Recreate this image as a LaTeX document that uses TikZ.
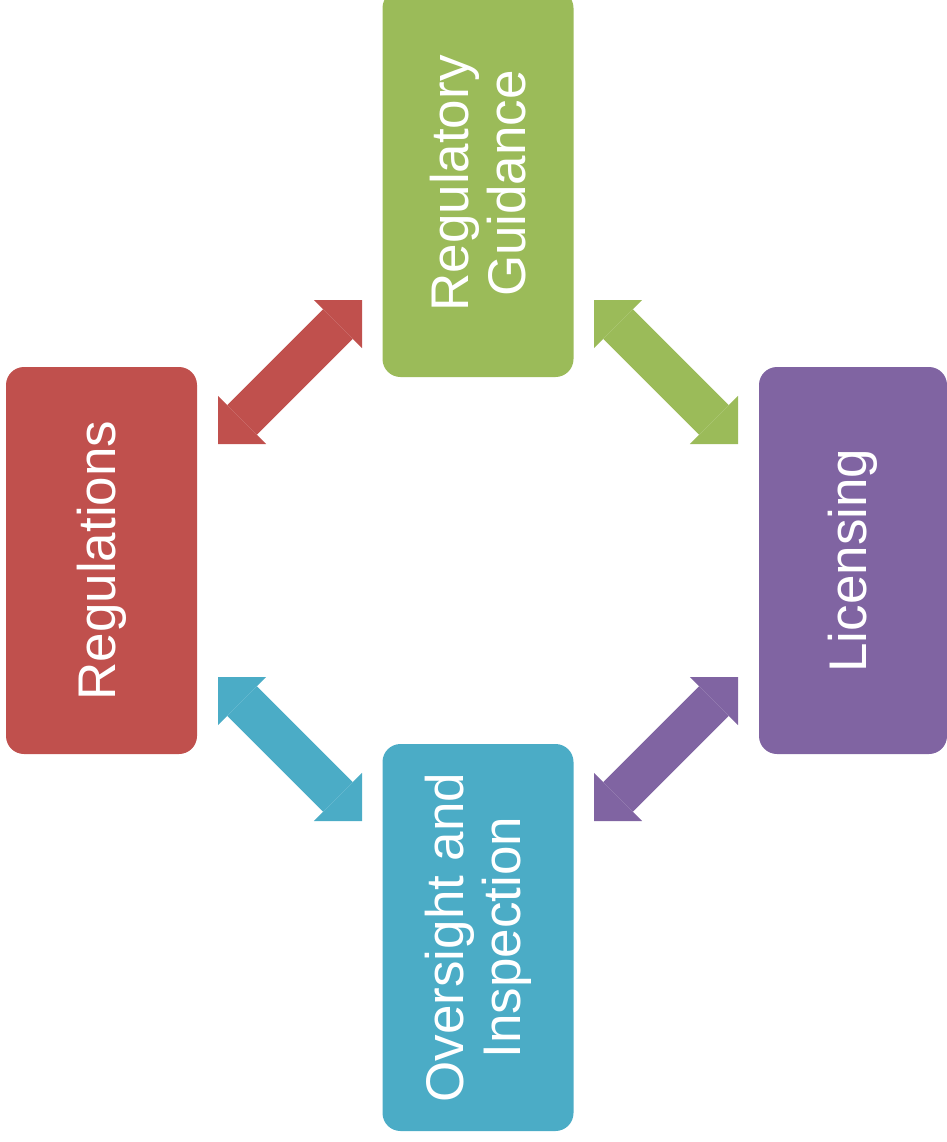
\documentclass[tikz,border=0pt]{standalone}
\usepackage{fontspec}
\setmainfont{Liberation Sans}
\usepackage{xcolor}
\usepackage{tikz}
\usetikzlibrary{positioning,arrows.meta}
\definecolor{regred}{HTML}{C0504D}
\definecolor{guidegreen}{HTML}{9BBB59}
\definecolor{licpurple}{HTML}{8064A2}
\definecolor{insblue}{HTML}{4BACC6}
\tikzset{
  stage/.style={rotate=90,minimum width=193.5pt,minimum height=95.5pt,inner sep=0pt,rounded corners=9pt,text=white,align=center,font=\fontsize{26.5}{28.5}\selectfont},
  link/.style={line width=21pt,arrows={Triangle[length=17pt,width=34pt,line width=0pt]-Triangle[length=17pt,width=34pt,line width=0pt]}}
}
\begin{document}
\begin{tikzpicture}[x=0.5pt,y=-0.5pt]
		\useasboundingbox (0,0) rectangle (947,1142);
		\clip (0,0) rectangle (947,1142);
		\node[stage,fill=regred] (regs) at (101.5,560.5) {Regulations};
		\node[stage,fill=guidegreen] (guide) at (478,183.5) {Regulatory\\Guidance};
		\node[stage,fill=licpurple,minimum height=94pt] (lic) at (853,560.5) {Licensing};
		\node[stage,fill=insblue] (insp) at (478,937.5) {Oversight and\\Inspection};
		
		\coordinate (regs-a) at (218,444);
		\coordinate (guide-a) at (362,300);
		\coordinate (guide-b) at (594,300);
		\coordinate (lic-a) at (738,444);
		\coordinate (regs-b) at (218,677);
		\coordinate (insp-a) at (362,821);
		\coordinate (insp-b) at (594,821);
		\coordinate (lic-b) at (738,677);
		
		\draw[link,color=regred] (regs-a)--(guide-a);
		\draw[link,color=guidegreen] (guide-b)--(lic-a);
		\draw[link,color=insblue] (regs-b)--(insp-a);
		\draw[link,color=licpurple] (insp-b)--(lic-b);
	\end{tikzpicture}
\end{document}
